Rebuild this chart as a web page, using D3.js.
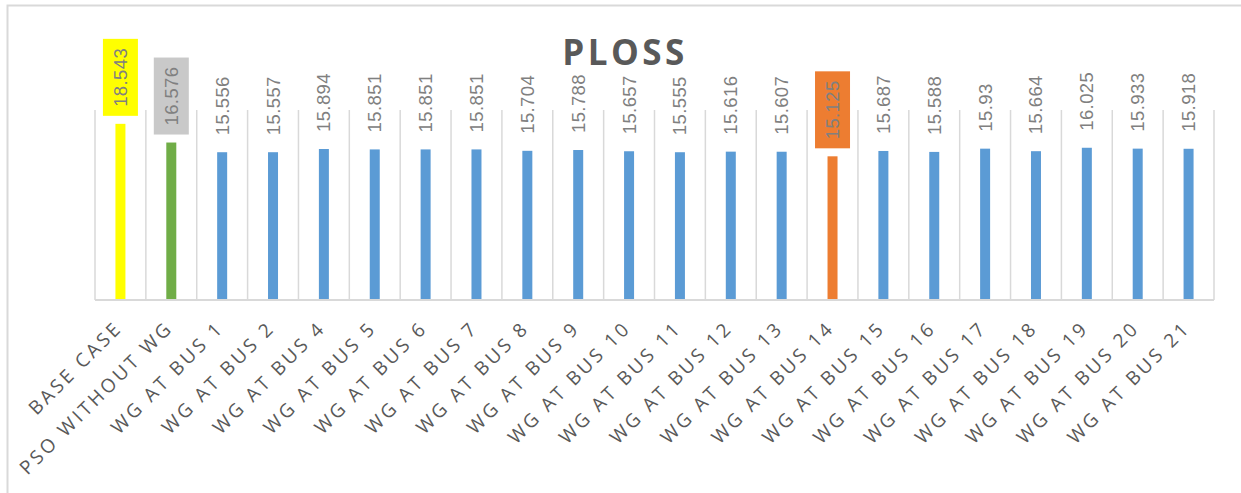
<!DOCTYPE html>
<html>
<head>
<meta charset="utf-8">
<script src="https://cdn.jsdelivr.net/npm/d3@7"></script>
<style>
  html, body { margin: 0; padding: 0; background: #ffffff; }
  svg { display: block; }
</style>
</head>
<body>
<svg id="chart" width="1241" height="493"></svg>
<script>
const categories = ["BASE CASE", "PSO WITHOUT WG", "WG AT BUS 1", "WG AT BUS 2", "WG AT BUS 4",
  "WG AT BUS 5", "WG AT BUS 6", "WG AT BUS 7", "WG AT BUS 8", "WG AT BUS 9", "WG AT BUS 10",
  "WG AT BUS 11", "WG AT BUS 12", "WG AT BUS 13", "WG AT BUS 14", "WG AT BUS 15", "WG AT BUS 16",
  "WG AT BUS 17", "WG AT BUS 18", "WG AT BUS 19", "WG AT BUS 20", "WG AT BUS 21"];
const ploss = [18.543, 16.576, 15.556, 15.557, 15.894, 15.851, 15.851, 15.851, 15.704, 15.788,
  15.657, 15.555, 15.616, 15.607, 15.125, 15.687, 15.588, 15.93, 15.664, 16.025, 15.933, 15.918];
const valueLabels = ["18.543", "16.576", "15.556", "15.557", "15.894", "15.851", "15.851", "15.851",
  "15.704", "15.788", "15.657", "15.555", "15.616", "15.607", "15.125", "15.687", "15.588", "15.93",
  "15.664", "16.025", "15.933", "15.918"];
const barColors = ["#FFFF00", "#70AD47", "#5B9BD5", "#5B9BD5", "#5B9BD5", "#5B9BD5", "#5B9BD5",
  "#5B9BD5", "#5B9BD5", "#5B9BD5", "#5B9BD5", "#5B9BD5", "#5B9BD5", "#5B9BD5", "#ED7D31", "#5B9BD5",
  "#5B9BD5", "#5B9BD5", "#5B9BD5", "#5B9BD5", "#5B9BD5", "#5B9BD5"];
const labelBoxColors = ["#FFFF00", "#C9C9C9", null, null, null, null, null, null, null, null, null,
  null, null, null, "#ED7D31", null, null, null, null, null, null, null];
const yDomain = [0, 20];
const title = "PLOSS";

const svg = d3.select("#chart");
const W = 1241, H = 493;
const plot = { left: 95, right: 1214, top: 110, bottom: 300 };

// chart border (left and top visible)
svg.append("path")
  .attr("d", `M7.5,${H} L7.5,5.5 L${W},5.5`)
  .attr("fill", "none").attr("stroke", "#D9D9D9").attr("stroke-width", 2);

const x = d3.scaleBand().domain(categories).range([plot.left, plot.right]).padding(0);
const y = d3.scaleLinear().domain(yDomain).range([plot.bottom, plot.top]);

// vertical gridlines at category boundaries
const bounds = categories.map(c => x(c)).concat([plot.right]);
svg.append("g").selectAll("line").data(bounds).join("line")
  .attr("x1", d => d).attr("x2", d => d)
  .attr("y1", plot.top).attr("y2", plot.bottom)
  .attr("stroke", "#D9D9D9").attr("stroke-width", 1.5);

// bars
const barW = 10;
const data = categories.map((c, i) => ({ c, v: ploss[i], label: valueLabels[i], color: barColors[i], box: labelBoxColors[i] }));
svg.append("g").selectAll("rect").data(data).join("rect")
  .attr("x", d => x(d.c) + x.bandwidth() / 2 - barW / 2)
  .attr("width", barW)
  .attr("y", d => y(d.v))
  .attr("height", d => y(0) - y(d.v))
  .attr("fill", d => d.color);

// x axis line
svg.append("line")
  .attr("x1", plot.left).attr("x2", plot.right)
  .attr("y1", plot.bottom).attr("y2", plot.bottom)
  .attr("stroke", "#D9D9D9").attr("stroke-width", 2);

// value labels
const labG = svg.append("g");
data.forEach(d => {
  const cx = x(d.c) + x.bandwidth() / 2;
  const top = y(d.v);
  const g = labG.append("g");
  const t = g.append("text")
    .attr("transform", `translate(${cx + 6.5},${top - 17}) rotate(-90)`)
    .attr("font-family", "Liberation Sans, Arial, sans-serif")
    .attr("font-size", 18.5)
    .attr("letter-spacing", 0.4)
    .attr("fill", "#808080")
    .attr("text-anchor", "start")
    .text(d.label);
  if (d.box) {
    const len = t.node().getComputedTextLength();
    g.insert("rect", "text")
      .attr("x", cx - 17.5)
      .attr("width", 35)
      .attr("y", top - 17 - len - 9)
      .attr("height", len + 9 + 9)
      .attr("fill", d.box);
  }
});

// category labels
svg.append("g").selectAll("text").data(categories).join("text")
  .attr("transform", d => `translate(${x(d) + x.bandwidth() / 2 + 3},${plot.bottom + 29}) rotate(-45)`)
  .attr("text-anchor", "end")
  .attr("font-family", "Open Sans, sans-serif")
  .attr("font-size", 19)
  .attr("letter-spacing", 3.1)
  .attr("fill", "#595959")
  .text(d => d);

// title
svg.append("text")
  .attr("x", 625).attr("y", 65)
  .attr("text-anchor", "middle")
  .attr("font-family", "Open Sans, sans-serif")
  .attr("font-size", 35)
  .attr("font-weight", "bold")
  .attr("letter-spacing", 3.5)
  .attr("fill", "#595959")
  .text(title);
</script>
</body>
</html>
